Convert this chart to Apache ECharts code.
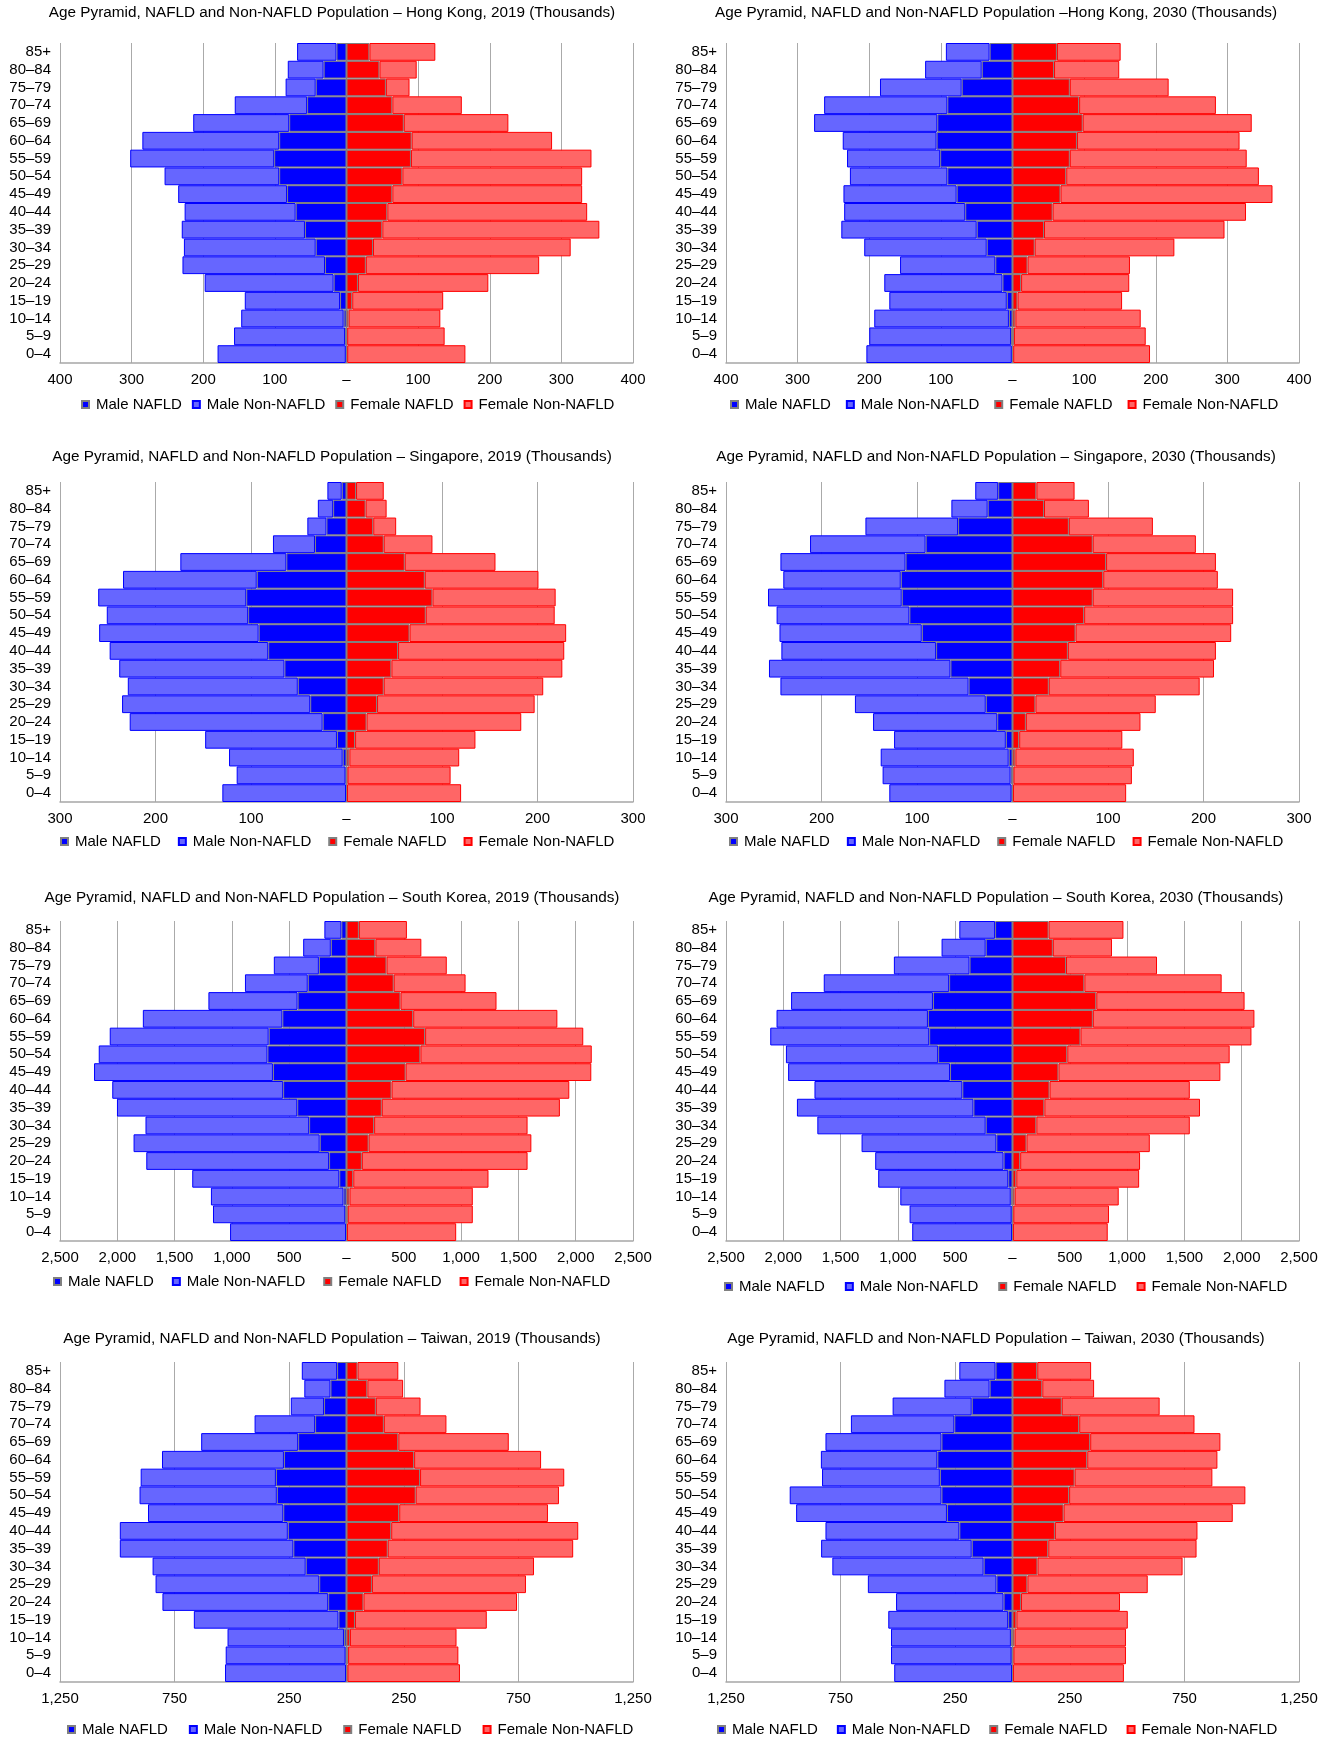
<!DOCTYPE html>
<html>
<head>
<meta charset="utf-8">
<script src="https://cdn.jsdelivr.net/npm/echarts@6/dist/echarts.min.js"></script>
<style>
  html, body { margin: 0; padding: 0; background: #fff; width: 1328px; height: 1742px; overflow: hidden; }
  .c { position: absolute; width: 664px; }
</style>
</head>
<body>
<div id="c0" class="c" style="left:0;top:0;height:420px"></div>
<div id="c1" class="c" style="left:664px;top:0;height:420px"></div>
<div id="c2" class="c" style="left:0;top:444px;height:420px"></div>
<div id="c3" class="c" style="left:664px;top:444px;height:420px"></div>
<div id="c4" class="c" style="left:0;top:885px;height:420px"></div>
<div id="c5" class="c" style="left:664px;top:885px;height:420px"></div>
<div id="c6" class="c" style="left:0;top:1326px;height:416px"></div>
<div id="c7" class="c" style="left:664px;top:1326px;height:416px"></div>
<script>
// Age groups, top to bottom
const ageGroups = ['85+','80–84','75–79','70–74','65–69','60–64','55–59','50–54','45–49','40–44','35–39','30–34','25–29','20–24','15–19','10–14','5–9','0–4'];
const seriesNames = ['Male NAFLD','Male Non-NAFLD','Female NAFLD','Female Non-NAFLD'];

// Hong Kong 2019
const hk2019MaleNafld  = [14,32,43,55,80,94,101,94,83,71,58,43,30,18,9,4,2,1];
const hk2019MaleNon    = [55,50,42,101,134,191,201,160,152,155,172,184,199,180,133,143,155,179];
const hk2019FemaleNafld= [32,46,55,64,80,91,90,78,64,57,50,37,27,16,8,3,1,1];
const hk2019FemaleNon  = [92,52,33,97,146,196,252,251,265,279,303,276,242,182,127,128,136,165];
// Hong Kong 2030
const hk2030MaleNafld  = [32,43,71,91,105,106,101,91,78,66,50,36,24,14,8,5,2,1];
const hk2030MaleNon    = [61,79,114,172,172,131,130,136,158,169,189,171,133,165,164,188,198,203];
const hk2030FemaleNafld= [62,58,80,93,98,90,80,75,67,56,44,31,21,12,7,4,2,1];
const hk2030FemaleNon  = [89,91,138,191,236,227,247,269,296,270,252,195,143,151,146,175,184,191];
// Singapore 2019
const sg2019MaleNafld  = [5,14,21,33,63,94,105,103,92,82,65,51,38,25,10,4,1,0.5];
const sg2019MaleNon    = [15,16,20,44,111,140,155,148,167,166,173,178,197,202,138,119,114,129.5];
const sg2019FemaleNafld= [10,20,28,39,61,82,90,83,66,54,47,39,32,21,9,3,1,0.5];
const sg2019FemaleNon  = [29,22,24,51,95,119,129,135,164,174,179,167,165,162,126,115,108,119.5];
// Singapore 2030
const sg2030MaleNafld  = [15,26,57,91,112,117,116,108,95,80,65,46,28,16,7,4,2,1];
const sg2030MaleNon    = [24,38,97,121,131,123,140,139,149,162,190,197,137,130,117,134,134,128];
const sg2030FemaleNafld= [25,33,59,84,98,95,84,75,66,58,50,38,24,14,7,3,1,0.5];
const sg2030FemaleNon  = [40,47,88,108,115,120,147,156,163,155,161,158,126,120,108,124,124,118.5];
// South Korea 2019
const kr2019MaleNafld  = [45,137,241,338,427,560,679,690,642,553,430,326,234,152,63,26,11,4];
const kr2019MaleNon    = [148,241,393,548,778,1217,1387,1472,1561,1491,1573,1428,1624,1595,1283,1157,1154,1012];
const kr2019FemaleNafld= [108,252,349,412,471,582,686,645,516,393,308,241,193,134,59,26,11,4];
const kr2019FemaleNon  = [419,401,526,627,838,1258,1380,1495,1620,1551,1554,1339,1420,1446,1180,1076,1091,953];
// South Korea 2030
const kr2030MaleNafld  = [152,234,375,553,694,738,727,649,545,438,341,234,141,78,37,15,7,4];
const kr2030MaleNon    = [312,385,660,1094,1238,1321,1387,1328,1413,1290,1540,1469,1176,1120,1135,964,891,871];
const kr2030FemaleNafld= [315,352,467,627,731,701,593,478,401,323,278,208,122,67,33,19,7,4];
const kr2030FemaleNon  = [653,516,794,1198,1294,1410,1492,1417,1413,1224,1358,1339,1076,1046,1072,908,835,827];
// Taiwan 2019
const tw2019MaleNafld  = [41,70,98,137,211,273,308,304,276,256,232,178,119,80,35,11,4,2];
const tw2019MaleNon    = [154,114,145,264,423,532,590,599,590,733,757,668,714,723,631,508,523,528];
const tw2019FemaleNafld= [48,91,128,163,226,295,321,302,230,195,180,141,111,74,37,15,7,4];
const tw2019FemaleNon  = [178,156,195,273,482,554,629,625,649,816,809,677,672,670,575,465,481,491];
// Taiwan 2030
const tw2030MaleNafld  = [74,100,178,254,310,328,317,310,286,232,178,126,70,39,19,7,4,2];
const tw2030MaleNon    = [158,197,345,451,506,508,514,662,658,584,657,660,561,469,523,523,526,514];
const tw2030FemaleNafld= [108,130,215,291,339,326,271,247,223,185,156,109,65,37,17,9,4,2];
const tw2030FemaleNon  = [235,226,427,503,568,568,601,769,738,622,647,633,525,432,486,486,491,484];

const titles = [
  'Age Pyramid, NAFLD and Non-NAFLD Population – Hong Kong, 2019 (Thousands)',
  'Age Pyramid, NAFLD and Non-NAFLD Population –Hong Kong, 2030 (Thousands)',
  'Age Pyramid, NAFLD and Non-NAFLD Population – Singapore, 2019 (Thousands)',
  'Age Pyramid, NAFLD and Non-NAFLD Population – Singapore, 2030 (Thousands)',
  'Age Pyramid, NAFLD and Non-NAFLD Population – South Korea, 2019 (Thousands)',
  'Age Pyramid, NAFLD and Non-NAFLD Population – South Korea, 2030 (Thousands)',
  'Age Pyramid, NAFLD and Non-NAFLD Population – Taiwan, 2019 (Thousands)',
  'Age Pyramid, NAFLD and Non-NAFLD Population – Taiwan, 2030 (Thousands)'
];
const axisMax      = [400, 400, 300, 300, 2500, 2500, 1250, 1250];
const axisInterval = [100, 100, 100, 100, 500, 500, 500, 500];

const chartData = [
  [hk2019MaleNafld, hk2019MaleNon, hk2019FemaleNafld, hk2019FemaleNon],
  [hk2030MaleNafld, hk2030MaleNon, hk2030FemaleNafld, hk2030FemaleNon],
  [sg2019MaleNafld, sg2019MaleNon, sg2019FemaleNafld, sg2019FemaleNon],
  [sg2030MaleNafld, sg2030MaleNon, sg2030FemaleNafld, sg2030FemaleNon],
  [kr2019MaleNafld, kr2019MaleNon, kr2019FemaleNafld, kr2019FemaleNon],
  [kr2030MaleNafld, kr2030MaleNon, kr2030FemaleNafld, kr2030FemaleNon],
  [tw2019MaleNafld, tw2019MaleNon, tw2019FemaleNafld, tw2019FemaleNon],
  [tw2030MaleNafld, tw2030MaleNon, tw2030FemaleNafld, tw2030FemaleNon]
];

// layout (within each chart div)
const layouts = [
  {gridTop: 43, legendTop: 397, legendLeft: 81, gap: 10, gl: 60},
  {gridTop: 43, legendTop: 397, legendLeft: 66, gap: 15, gl: 62},
  {gridTop: 38, legendTop: 390, legendLeft: 60, gap: 17, gl: 60},
  {gridTop: 38, legendTop: 390, legendLeft: 65, gap: 17, gl: 62},
  {gridTop: 36, legendTop: 389, legendLeft: 53, gap: 18, gl: 60},
  {gridTop: 36, legendTop: 394, legendLeft: 60, gap: 20, gl: 62},
  {gridTop: 36, legendTop: 396, legendLeft: 67, gap: 21, gl: 60},
  {gridTop: 36, legendTop: 396, legendLeft: 53, gap: 19, gl: 62}
];

const FONT = "'Liberation Sans', Arial, Helvetica, sans-serif";
const fills   = ['#0000FF', '#6666FF', '#FF0000', '#FF6666'];
const borders = ['#808080', '#0000FF', '#808080', '#FF0000'];

function fmt(v) {
  if (v === 0) return '–';
  return Math.abs(v).toLocaleString('en-US');
}

for (let i = 0; i < 8; i++) {
  const chart = echarts.init(document.getElementById('c' + i), null, {renderer: 'canvas'});
  const L = layouts[i];
  const d = chartData[i];
  const series = seriesNames.map((name, k) => {
    const sign = k < 2 ? -1 : 1;
    const s = {
      name: name,
      type: 'bar',
      stack: 'pop',
      barCategoryGap: '0%',
      data: d[k].map(v => sign * v),
      itemStyle: { color: fills[k], borderColor: borders[k], borderWidth: 1 },
      emphasis: { disabled: true },
      animation: false
    };
    if (k === 3) {
      s.markLine = {
        silent: true, symbol: 'none', animation: false,
        label: { show: false },
        lineStyle: { color: '#808080', width: 1, type: 'solid' },
        data: [{ xAxis: 0 }]
      };
    }
    return s;
  });
  chart.setOption({
    animation: false,
    textStyle: { fontFamily: FONT },
    title: {
      text: titles[i], left: 'center', top: 5, padding: 0,
      textStyle: { fontFamily: FONT, fontSize: 15.3, fontWeight: 'normal', color: '#000' }
    },
    legend: {
      data: seriesNames, top: L.legendTop, left: L.legendLeft, padding: 0,
      itemWidth: 7, itemHeight: 7, itemGap: L.gap, icon: 'rect',
      textStyle: { fontFamily: FONT, fontSize: 15, color: '#000', padding: [0, 0, 0, 2] }
    },
    grid: { left: L.gl, width: 573, top: L.gridTop, height: 320, containLabel: false },
    xAxis: {
      type: 'value', min: -axisMax[i], max: axisMax[i], interval: axisInterval[i],
      axisLine: { show: true, lineStyle: { color: '#a6a6a6', width: 1.5 } },
      axisTick: { show: false },
      splitLine: { show: true, lineStyle: { color: '#aaaaaa', width: 1 } },
      axisLabel: { formatter: fmt, fontFamily: FONT, fontSize: 15, color: '#000', margin: 9 }
    },
    yAxis: {
      type: 'category', data: ageGroups, inverse: true,
      axisLine: { show: false }, axisTick: { show: false },
      axisLabel: { interval: 0, fontFamily: FONT, fontSize: 15, color: '#000', margin: 9 }
    },
    series: series
  });
}
</script>
</body>
</html>
